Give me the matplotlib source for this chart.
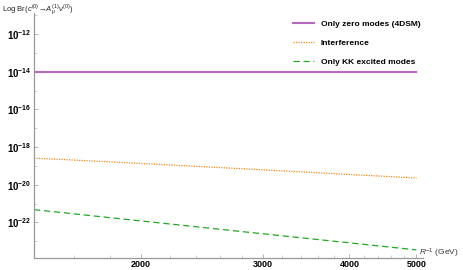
import math
import matplotlib.pyplot as plt
from matplotlib.ticker import FixedLocator, NullFormatter

plt.rcParams['font.family'] = ['Liberation Sans', 'DejaVu Sans']
plt.rcParams['mathtext.fontset'] = 'custom'
plt.rcParams['mathtext.rm'] = 'Liberation Sans'
plt.rcParams['mathtext.it'] = 'Liberation Sans:italic'
plt.rcParams['mathtext.bf'] = 'Liberation Sans:bold'

# R^-1 in GeV
r_inv = [1400, 2000, 3000, 4000, 5000]

zero_modes = [1.0e-14, 1.0e-14, 1.0e-14, 1.0e-14, 1.0e-14]
interference = [2.6e-19, 1.35e-19, 6.2e-20, 3.5e-20, 2.3e-20]
kk_modes = [4.8e-22, 1.2e-22, 2.5e-23, 8.3e-24, 3.5e-24]

x_ticks = [2000, 3000, 4000, 5000]
x_minor = [1600, 1800, 2200, 2400, 2600, 2800, 3200, 3400, 3600, 3800,
           4200, 4400, 4600, 4800]
y_ticks = [1e-22, 1e-20, 1e-18, 1e-16, 1e-14, 1e-12]
y_minor = [1e-23, 1e-21, 1e-19, 1e-17, 1e-15, 1e-13, 1e-11]

fig = plt.figure(figsize=(4.63, 2.70), dpi=100)
ax = fig.add_axes([34 / 463, 12 / 270, (423 - 34) / 463, (258 - 13) / 270])

ax.plot(r_inv, zero_modes, color='#b868c0', lw=1.5, label='Only zero modes (4DSM)')
ax.plot(r_inv, interference, color='#f08a1c', lw=0.9, ls=(0, (1, 1)), label='Interference')
ax.plot(r_inv, kk_modes, color='#22aa22', lw=0.9, ls=(0, (5, 3)), label='Only KK excited modes')

ax.set_xscale('log')
ax.set_yscale('log')
ax.set_xlim(1400, 5110)
ax.set_ylim(1.3e-24, 1.3e-11)

ax.xaxis.set_major_locator(FixedLocator(x_ticks))
ax.xaxis.set_minor_locator(FixedLocator(x_minor))
ax.xaxis.set_minor_formatter(NullFormatter())
ax.set_xticklabels([str(t) for t in x_ticks], fontsize=6.5, fontweight='bold')
ax.yaxis.set_major_locator(FixedLocator(y_ticks))
ax.yaxis.set_minor_locator(FixedLocator(y_minor))
ax.yaxis.set_minor_formatter(NullFormatter())
ax.set_yticklabels([r'$\mathbf{10^{%d}}$' % int(round(math.log10(t))) for t in y_ticks],
                   fontsize=7)

for s in ['top', 'right']:
    ax.spines[s].set_visible(False)
for s in ['left', 'bottom']:
    ax.spines[s].set_color('#999999')
    ax.spines[s].set_linewidth(0.9)

ax.tick_params(which='major', direction='in', length=3, width=0.6, color='#aaaaaa', pad=2)
ax.tick_params(which='minor', direction='in', length=2, width=0.5, color='#bbbbbb')
ax.tick_params(axis='x', which='major', pad=1.5)

fig.text(0.004, 0.988, r'Log Br($c^{(0)}\!\rightarrow\!A_\mu^{(1)}\nu^{(0)}$)',
         fontsize=5.5, va='top', ha='left', color='#222222')
fig.text(419 / 463, 1 - 253 / 270, r'$R^{-1}$ (GeV)', fontsize=6, va='center',
         ha='left', color='#333333')

leg = ax.legend(loc='upper left', bbox_to_anchor=((293 - 34) / 389, (258 - 20) / 245),
                frameon=False, borderaxespad=0, borderpad=0,
                prop={'size': 6, 'weight': 'bold'}, handlelength=2.5,
                labelspacing=1.35, handletextpad=0.85)

fig.savefig('out.png', dpi=100)
